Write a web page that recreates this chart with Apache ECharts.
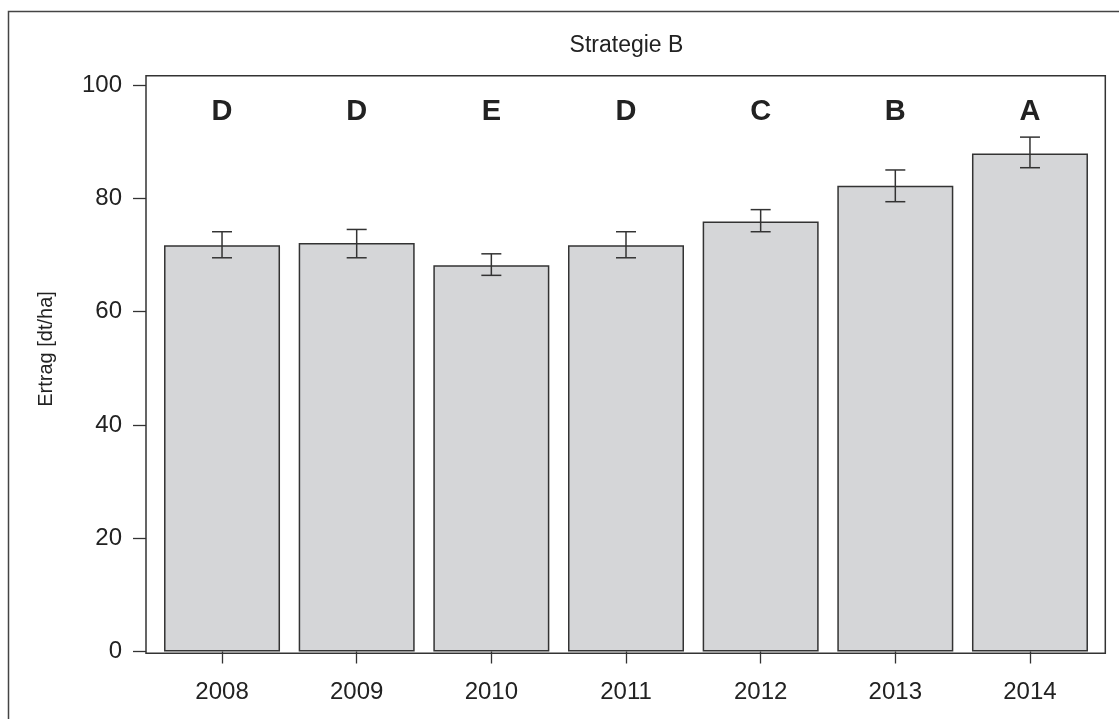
<!DOCTYPE html>
<html>
<head>
<meta charset="utf-8">
<script src="https://cdn.jsdelivr.net/npm/echarts@6/dist/echarts.min.js"></script>
<style>
  html, body { margin: 0; padding: 0; background: #fff; }
  #chart { width: 1119px; height: 719px; }
</style>
</head>
<body>
<div id="chart"></div>
<script>
// Yield per year (Strategie B) with error bar limits and significance letters
const years = ['2008', '2009', '2010', '2011', '2012', '2013', '2014'];
const yieldMean = [71.7, 72.1, 68.2, 71.7, 75.9, 82.2, 87.9];
const errLow = [69.5, 69.5, 66.4, 69.5, 74.1, 79.4, 85.4];
const errHigh = [74.1, 74.5, 70.2, 74.1, 78.0, 85.0, 90.8];
const groupLetters = ['D', 'D', 'E', 'D', 'C', 'B', 'A'];
const yTicks = [0, 20, 40, 60, 80, 100];

const FONT = '"Liberation Sans", Arial, Helvetica, sans-serif';
const INK = '#222';
const LINE = '#333';
const LETTER_LEVEL = 95.2;

const chart = echarts.init(document.getElementById('chart'), null, { renderer: 'canvas' });

const option = {
  animation: false,
  backgroundColor: '#fff',
  textStyle: { fontFamily: FONT },
  grid: { left: 154.7, right: 21.7, top: 85, bottom: 67.5 },
  xAxis: {
    type: 'category',
    data: years,
    offset: 2,
    axisLine: { show: false },
    axisTick: { show: true, alignWithLabel: true, length: 12, lineStyle: { color: LINE, width: 1.3 } },
    axisLabel: { fontSize: 24, color: INK, margin: 27, fontFamily: FONT },
    splitLine: { show: false }
  },
  yAxis: {
    type: 'value',
    min: yTicks[0],
    max: yTicks[yTicks.length - 1],
    interval: 20,
    offset: 8.7,
    axisLine: { show: false },
    axisTick: { show: true, length: 13, lineStyle: { color: LINE, width: 1.3 } },
    axisLabel: { fontSize: 24, color: INK, margin: 24, fontFamily: FONT, padding: [6, 0, 0, 0] },
    splitLine: { show: false }
  },
  series: [
    {
      type: 'bar',
      data: yieldMean,
      barWidth: 116,
      itemStyle: { color: '#d5d6d8', borderColor: LINE, borderWidth: 1.5 },
      z: 2
    },
    {
      type: 'custom',
      z: 3,
      data: years.map((y, i) => [i, errLow[i], errHigh[i]]),
      renderItem: function (params, api) {
        const lo = api.coord([api.value(0), api.value(1)]);
        const hi = api.coord([api.value(0), api.value(2)]);
        const half = 10;
        const style = { stroke: LINE, lineWidth: 1.5 };
        return {
          type: 'group',
          children: [
            { type: 'line', shape: { x1: lo[0], y1: lo[1], x2: hi[0], y2: hi[1] }, style },
            { type: 'line', shape: { x1: hi[0] - half, y1: hi[1], x2: hi[0] + half, y2: hi[1] }, style },
            { type: 'line', shape: { x1: lo[0] - half, y1: lo[1], x2: lo[0] + half, y2: lo[1] }, style }
          ]
        };
      }
    },
    {
      type: 'custom',
      z: 4,
      data: groupLetters.map((l, i) => [i, LETTER_LEVEL]),
      renderItem: function (params, api) {
        const p = api.coord([api.value(0), api.value(1)]);
        return {
          type: 'text',
          style: {
            x: p[0], y: p[1],
            text: groupLetters[params.dataIndex],
            fill: INK,
            font: 'bold 29px ' + FONT,
            textAlign: 'center',
            textVerticalAlign: 'middle'
          }
        };
      }
    }
  ],
  graphic: [
    {
      type: 'rect', z: 10, silent: true,
      shape: { x: 8.5, y: 11.5, width: 1200, height: 800 },
      style: { fill: 'none', stroke: '#444', lineWidth: 1.5 }
    },
    {
      type: 'rect', z: 10, silent: true,
      shape: { x: 146, y: 75.7, width: 959.3, height: 577.6 },
      style: { fill: 'none', stroke: LINE, lineWidth: 1.5 }
    },
    {
      type: 'text', z: 10, silent: true,
      style: {
        x: 626.5, y: 46, text: 'Strategie B', fill: INK,
        font: '23px ' + FONT, textAlign: 'center', textVerticalAlign: 'middle'
      }
    },
    {
      type: 'text', z: 10, silent: true,
      x: 46, y: 349, rotation: Math.PI / 2,
      style: {
        x: 0, y: 0, text: 'Ertrag [dt/ha]', fill: INK,
        font: '20px ' + FONT, textAlign: 'center', textVerticalAlign: 'middle'
      }
    }
  ]
};

chart.setOption(option);
</script>
</body>
</html>
